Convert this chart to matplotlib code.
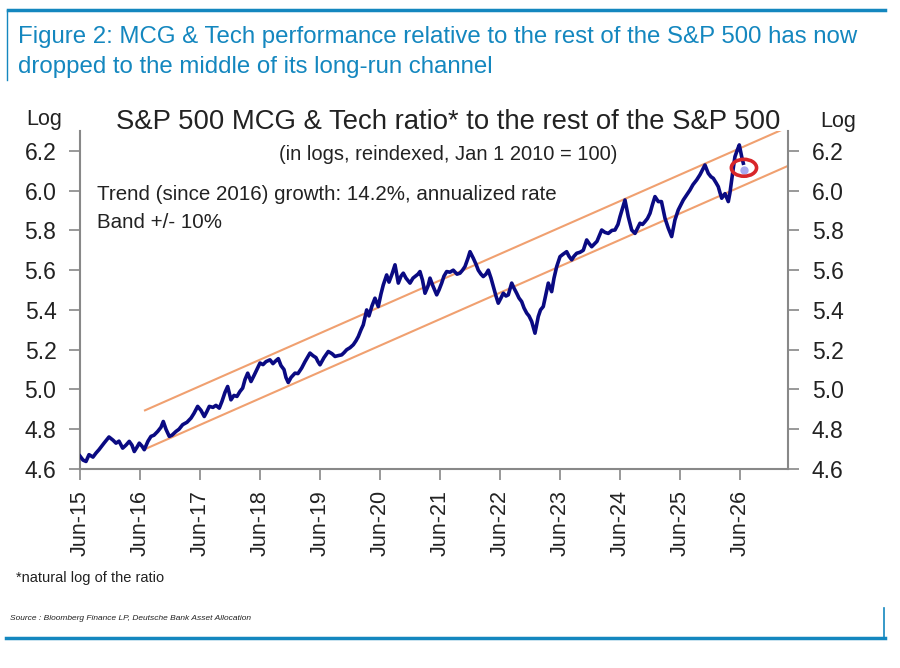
import matplotlib
matplotlib.use("Agg")
import matplotlib.pyplot as plt
from matplotlib.lines import Line2D
from matplotlib.patches import Ellipse

# ratio series (decimal years, natural log of ratio)
years = [
    2015.417, 2015.467, 2015.517, 2015.567, 2015.633, 2015.683, 2015.733, 2015.817, 2015.900, 2015.967,
    2016.017, 2016.067, 2016.128, 2016.183, 2016.238, 2016.283, 2016.322, 2016.367, 2016.405, 2016.450,
    2016.488, 2016.550, 2016.600, 2016.650, 2016.712, 2016.767, 2016.805, 2016.850, 2016.905, 2016.950,
    2017.017, 2017.067, 2017.128, 2017.200, 2017.267, 2017.317, 2017.378, 2017.433, 2017.488, 2017.533,
    2017.572, 2017.633, 2017.683, 2017.738, 2017.783, 2017.833, 2017.878, 2017.933, 2017.983, 2018.033,
    2018.083, 2018.128, 2018.167, 2018.212, 2018.267, 2018.317, 2018.378, 2018.417, 2018.467, 2018.517,
    2018.583, 2018.633, 2018.683, 2018.722, 2018.767, 2018.817, 2018.850, 2018.888, 2018.933, 2019.000,
    2019.050, 2019.112, 2019.167, 2019.250, 2019.300, 2019.350, 2019.383, 2019.417, 2019.483, 2019.555,
    2019.617, 2019.667, 2019.717, 2019.778, 2019.817, 2019.862, 2019.917, 2019.972, 2020.017, 2020.055,
    2020.100, 2020.138, 2020.195, 2020.233, 2020.283, 2020.333, 2020.388, 2020.433, 2020.472, 2020.528,
    2020.567, 2020.617, 2020.667, 2020.722, 2020.767, 2020.805, 2020.850, 2020.917, 2020.967, 2021.000,
    2021.050, 2021.083, 2021.125, 2021.167, 2021.217, 2021.250, 2021.300, 2021.362, 2021.400, 2021.445,
    2021.483, 2021.528, 2021.583, 2021.638, 2021.700, 2021.750, 2021.792, 2021.833, 2021.883, 2021.917,
    2021.972, 2022.017, 2022.055, 2022.100, 2022.138, 2022.183, 2022.222, 2022.267, 2022.305, 2022.350,
    2022.388, 2022.433, 2022.472, 2022.517, 2022.555, 2022.612, 2022.650, 2022.695, 2022.733, 2022.778,
    2022.817, 2022.862, 2022.900, 2022.945, 2022.975, 2023.000, 2023.055, 2023.092, 2023.138, 2023.183,
    2023.222, 2023.278, 2023.317, 2023.362, 2023.417, 2023.467, 2023.528, 2023.567, 2023.612, 2023.650,
    2023.695, 2023.750, 2023.805, 2023.862, 2023.900, 2023.945, 2024.000, 2024.033, 2024.067, 2024.112,
    2024.167, 2024.222, 2024.283, 2024.333, 2024.383, 2024.417, 2024.458, 2024.500, 2024.555, 2024.612,
    2024.667, 2024.708, 2024.750, 2024.792, 2024.833, 2024.875, 2024.917, 2024.958, 2025.000, 2025.055,
    2025.108, 2025.167, 2025.222, 2025.278, 2025.333, 2025.388, 2025.433, 2025.472, 2025.533, 2025.583,
    2025.633, 2025.695, 2025.750, 2025.800, 2025.833, 2025.888, 2025.933, 2025.972, 2026.017, 2026.055,
    2026.083, 2026.112, 2026.167, 2026.222, 2026.250, 2026.278, 2026.308, 2026.333, 2026.367, 2026.405,
    2026.433, 2026.445, 2026.472,
]
ratio = [
    4.665, 4.645, 4.638, 4.672, 4.660, 4.680, 4.697, 4.730, 4.761, 4.745,
    4.730, 4.740, 4.705, 4.720, 4.739, 4.720, 4.688, 4.710, 4.730, 4.715,
    4.697, 4.740, 4.764, 4.770, 4.789, 4.810, 4.839, 4.800, 4.764, 4.770,
    4.789, 4.800, 4.823, 4.835, 4.856, 4.880, 4.915, 4.895, 4.864, 4.890,
    4.915, 4.910, 4.920, 4.906, 4.940, 4.985, 5.015, 4.948, 4.970, 4.965,
    4.990, 5.007, 5.050, 5.082, 5.040, 5.070, 5.108, 5.133, 5.125, 5.140,
    5.149, 5.130, 5.145, 5.155, 5.120, 5.100, 5.060, 5.035, 5.060, 5.082,
    5.080, 5.108, 5.140, 5.183, 5.170, 5.160, 5.140, 5.124, 5.160, 5.191,
    5.180, 5.166, 5.170, 5.174, 5.185, 5.200, 5.210, 5.225, 5.245, 5.266,
    5.300, 5.325, 5.400, 5.370, 5.420, 5.459, 5.417, 5.480, 5.526, 5.576,
    5.540, 5.580, 5.627, 5.535, 5.570, 5.585, 5.560, 5.535, 5.560, 5.568,
    5.580, 5.593, 5.550, 5.484, 5.520, 5.560, 5.520, 5.476, 5.500, 5.535,
    5.570, 5.593, 5.590, 5.600, 5.580, 5.585, 5.600, 5.618, 5.660, 5.693,
    5.660, 5.630, 5.600, 5.580, 5.568, 5.580, 5.600, 5.560, 5.518, 5.470,
    5.434, 5.460, 5.484, 5.470, 5.476, 5.535, 5.510, 5.484, 5.460, 5.442,
    5.410, 5.384, 5.370, 5.342, 5.310, 5.283, 5.367, 5.400, 5.417, 5.480,
    5.535, 5.492, 5.560, 5.618, 5.668, 5.680, 5.693, 5.670, 5.652, 5.670,
    5.685, 5.690, 5.700, 5.752, 5.735, 5.718, 5.735, 5.745, 5.770, 5.802,
    5.790, 5.785, 5.800, 5.802, 5.830, 5.869, 5.910, 5.953, 5.869, 5.802,
    5.785, 5.810, 5.836, 5.830, 5.844, 5.860, 5.886, 5.930, 5.970, 5.945,
    5.945, 5.861, 5.811, 5.769, 5.853, 5.903, 5.930, 5.953, 5.980, 6.003,
    6.030, 6.054, 6.080, 6.110, 6.129, 6.087, 6.070, 6.062, 6.040, 6.020,
    5.990, 5.962, 5.985, 5.945, 5.990, 6.054, 6.120, 6.171, 6.200, 6.230,
    6.190, 6.171, 6.138,
]
latest_year = 2026.483
latest_value = 6.105

# trend channel since 2016 (14.2% p.a., band +/- 10%)
trend_years = [2016.5, 2027.22]
upper_band = [4.895, 6.320]
lower_band = [4.700, 6.125]

tick_years = [2015.417 + i for i in range(12)]
tick_labels = ["Jun-%02d" % (15 + i) for i in range(12)]
y_ticks = [4.6, 4.8, 5.0, 5.2, 5.4, 5.6, 5.8, 6.0, 6.2]

plt.rcParams['font.family'] = ['Liberation Sans', 'DejaVu Sans']
blue = '#1487BF'
grey = '#888888'
txt = '#222222'

fig = plt.figure(figsize=(9, 6.68), dpi=100)
ax = fig.add_axes([80 / 900, 1 - 469 / 668, 708 / 900, 338 / 668])

ax.plot(trend_years, upper_band, color='#F0A070', lw=1.5, zorder=2)
ax.plot(trend_years, lower_band, color='#F0A070', lw=1.5, zorder=2)
ax.plot(years, ratio, color='#0A0A82', lw=2.6, zorder=3, solid_joinstyle='round')
ax.plot([latest_year], [latest_value], 'o', color='#A8A8F0', ms=5, zorder=4)
ax.add_patch(Ellipse((latest_year, latest_value + 0.01), 0.42, 0.085,
                     fill=False, edgecolor='#D8262A', lw=2.6, zorder=5))

ax.set_xlim(2015.417, 2027.217)
ax.set_ylim(4.6, 6.3)
ax.set_xticks(tick_years)
ax.set_xticklabels(tick_labels, rotation=90, fontsize=15.5, color=txt)
ax.set_yticks(y_ticks)
ax.set_yticklabels(["%.1f" % v for v in y_ticks], fontsize=16.5, color=txt)
ax.tick_params(axis='both', direction='out', length=8, width=1.2, color=grey)
ax.tick_params(axis='y', pad=9, labelright=True, right=True)
ax.tick_params(axis='x', pad=7)
ax.spines['top'].set_visible(False)
for s in ['left', 'right', 'bottom']:
    ax.spines[s].set_color(grey)
    ax.spines[s].set_linewidth(1.5)

# in-chart titles and notes
fig.text(448 / 900, 1 - 122 / 668, "S&P 500 MCG & Tech ratio* to the rest of the S&P 500",
         ha='center', va='center', fontsize=19.8, color=txt)
fig.text(448 / 900, 1 - 155 / 668, "(in logs, reindexed, Jan 1 2010 = 100)",
         ha='center', va='center', fontsize=14.5, color=txt)
fig.text(97 / 900, 1 - 195 / 668, "Trend (since 2016) growth: 14.2%, annualized rate",
         ha='left', va='center', fontsize=14.8, color=txt)
fig.text(97 / 900, 1 - 222 / 668, "Band +/- 10%", ha='left', va='center', fontsize=14.8, color=txt)
fig.text(44 / 900, 1 - 119 / 668, "Log", ha='center', va='center', fontsize=15.5, color=txt)
fig.text(838 / 900, 1 - 122 / 668, "Log", ha='center', va='center', fontsize=15.5, color=txt)

# figure frame, header and footer
fig.add_artist(Line2D([8 / 900, 885 / 900], [1 - 10 / 668, 1 - 10 / 668], color=blue, lw=2.5))
fig.add_artist(Line2D([7 / 900, 7 / 900], [1 - 10 / 668, 1 - 80 / 668], color=blue, lw=1))
fig.text(18 / 900, 1 - 37 / 668,
         "Figure 2: MCG & Tech performance relative to the rest of the S&P 500 has now",
         ha='left', va='center', fontsize=17.3, color=blue)
fig.text(18 / 900, 1 - 67 / 668, "dropped to the middle of its long-run channel",
         ha='left', va='center', fontsize=17.3, color=blue)
fig.text(16 / 900, 1 - 578 / 668, "*natural log of the ratio", ha='left', va='center',
         fontsize=10.5, color=txt)
fig.text(10 / 900, 1 - 618 / 668, "Source : Bloomberg Finance LP, Deutsche Bank Asset Allocation",
         ha='left', va='center', fontsize=6, style='italic', color=txt)
fig.add_artist(Line2D([6 / 900, 885 / 900], [1 - 638 / 668, 1 - 638 / 668], color=blue, lw=2.5))
fig.add_artist(Line2D([884 / 900, 884 / 900], [1 - 608 / 668, 1 - 638 / 668], color=blue, lw=1.2))

fig.savefig("out.png", dpi=100)
